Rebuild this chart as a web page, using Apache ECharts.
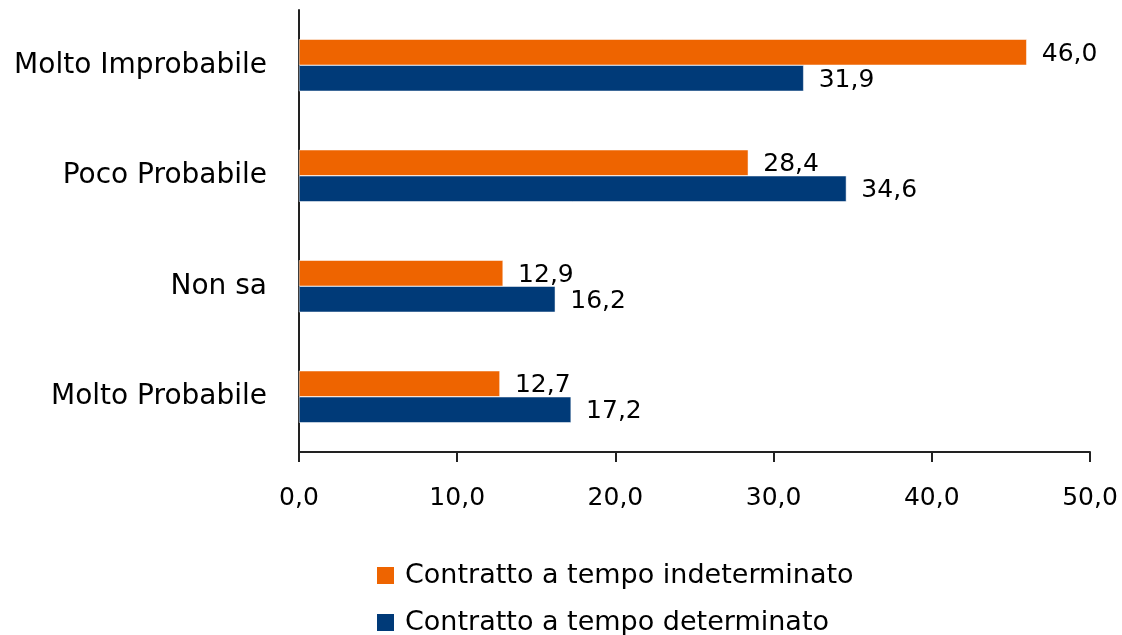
<!DOCTYPE html>
<html>
<head>
<meta charset="utf-8">
<script src="https://cdn.jsdelivr.net/npm/echarts@6/dist/echarts.min.js"></script>
<style>
  html, body { margin: 0; padding: 0; background: #fff; }
  #chart { width: 1122px; height: 635px; }
</style>
</head>
<body>
<div id="chart"></div>
<script>
// categories listed top to bottom
const categories = ["Molto Improbabile", "Poco Probabile", "Non sa", "Molto Probabile"];
const indeterminato = [46.0, 28.4, 12.9, 12.7];
const determinato = [31.9, 34.6, 16.2, 17.2];
const seriesNames = ["Contratto a tempo indeterminato", "Contratto a tempo determinato"];

const font = "DejaVu Sans";
const fmt = (v) => v.toFixed(1).replace(".", ",");

const chart = echarts.init(document.getElementById("chart"));

const label = {
    show: true,
    position: "right",
    distance: 15,
    offset: [0, 2],
    color: "#000",
    fontFamily: font,
    fontSize: 25,
    formatter: (p) => fmt(p.value),
};

// one legend per series so they stack vertically
const legendBase = {
    left: 370,
    itemWidth: 19,
    itemHeight: 19,
    itemGap: 10,
    icon: "rect",
    textStyle: { fontFamily: font, fontSize: 27, color: "#000", padding: [0, 0, 0, 5] },
};

chart.setOption({
    animation: false,
    grid: { left: 299, right: 32, top: 10, bottom: 183, containLabel: false },
    legend: [
        Object.assign({}, legendBase, { top: 557, data: [seriesNames[0]] }),
        Object.assign({}, legendBase, { top: 604, data: [seriesNames[1]] }),
    ],
    xAxis: {
        type: "value",
        min: 0,
        max: 50,
        interval: 10,
        axisLine: { show: true, lineStyle: { color: "#222", width: 2 } },
        axisTick: { show: true, length: 10, lineStyle: { color: "#222", width: 2 } },
        splitLine: { show: false },
        axisLabel: {
            margin: 34,
            color: "#000",
            fontFamily: font,
            fontSize: 25,
            formatter: (v) => fmt(v),
        },
    },
    yAxis: {
        type: "category",
        inverse: true,
        data: categories,
        axisLine: { show: true, lineStyle: { color: "#222", width: 2 } },
        axisTick: { show: false },
        axisLabel: { margin: 32, color: "#000", fontFamily: font, fontSize: 28 },
    },
    series: [
        {
            name: seriesNames[0],
            type: "bar",
            data: indeterminato,
            barWidth: 26,
            barGap: "0%",
            itemStyle: { color: "#EE6400", borderColor: "#fff", borderWidth: 0.5 },
            label: label,
        },
        {
            name: seriesNames[1],
            type: "bar",
            data: determinato,
            barWidth: 26,
            barGap: "0%",
            itemStyle: { color: "#003A78", borderColor: "#fff", borderWidth: 0.5 },
            label: label,
        },
    ],
});
</script>
</body>
</html>
